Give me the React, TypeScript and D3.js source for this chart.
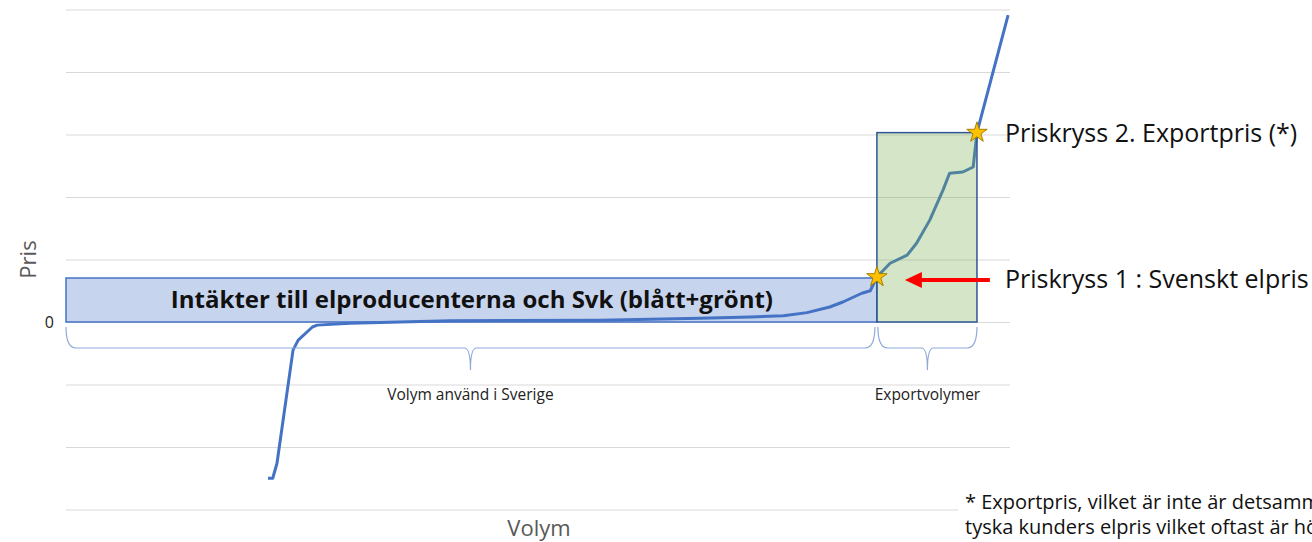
import { useEffect, useRef } from 'react';
import * as d3 from 'd3';

// supply curve (volume 0-100, price in grid units)
const volume = [21.4, 21.9, 22.35, 24.05, 24.6, 26.1, 26.6, 30.1, 40.7, 56.6, 67.2, 72.5, 76.0, 78.5, 80.9, 82.3, 84.3, 85.2, 85.7, 85.9, 87.3, 89.1, 90.1, 91.5, 92.9, 93.6, 95.0, 96.1, 96.5, 99.8];
const price = [-2.5, -2.5, -2.26, -0.45, -0.29, -0.08, -0.05, -0.02, 0.02, 0.03, 0.06, 0.08, 0.1, 0.15, 0.24, 0.32, 0.46, 0.5, 0.66, 0.72, 0.94, 1.07, 1.26, 1.63, 2.11, 2.38, 2.4, 2.48, 3.03, 4.91];

const priceTicks = [-3, -2, -1, 0, 1, 2, 3, 4, 5];

const domesticVolume = [0, 85.9];
const exportVolume = [85.9, 96.5];
const cross1 = { volume: 85.9, price: 0.72 };
const cross2 = { volume: 96.5, price: 3.03 };

const labels = {
	yAxis: 'Pris',
	xAxis: 'Volym',
	revenue: 'Intäkter till elproducenterna och Svk (blått+grönt)',
	domestic: 'Volym använd i Sverige',
	export: 'Exportvolymer',
	cross1: 'Priskryss 1 : Svenskt elpris',
	cross2: 'Priskryss 2. Exportpris (*)',
	note1: '* Exportpris, vilket är inte är detsamma som',
	note2: 'tyska kunders elpris vilket oftast är högre',
};

export default function App() {
	const svgRef = useRef<SVGSVGElement>(null);
	const width = 1312;
	const height = 542;
	const font = '"Open Sans", sans-serif';

	useEffect(() => {
		if (!svgRef.current) return;
		const svg = d3.select(svgRef.current);
		svg.selectAll('*').remove();

		const x = d3.scaleLinear().domain([0, 100]).range([66, 1010]);
		const y = d3.scaleLinear().domain([-3, 5]).range([509.5, 9.5]);

		// grid
		const grid = svg
			.append('g')
			.attr('transform', `translate(${x(0)},0)`)
			.call(
				d3
					.axisLeft(y)
					.tickValues(priceTicks)
					.tickSize(-(x(100) - x(0)))
					.tickPadding(12)
					.tickFormat((d) => (d === 0 ? '0' : '')),
			);
		grid.select('.domain').remove();
		grid.selectAll('line').attr('stroke', '#d9d9d9').attr('stroke-width', 1);
		grid
			.selectAll('text')
			.attr('font-family', font)
			.attr('font-size', 16)
			.attr('fill', '#222');

		// domestic revenue box
		svg
			.append('rect')
			.attr('x', x(domesticVolume[0]))
			.attr('y', y(cross1.price) + 1)
			.attr('width', x(domesticVolume[1]) - x(domesticVolume[0]))
			.attr('height', y(0) - y(cross1.price) - 1)
			.attr('fill', '#c7d4ee')
			.attr('stroke', '#4472c4')
			.attr('stroke-width', 1.5);

		const line = d3
			.line<number>()
			.x((_, i) => x(volume[i]))
			.y((d) => y(d))
			.curve(d3.curveLinear);

		svg
			.append('path')
			.datum(price)
			.attr('fill', 'none')
			.attr('stroke', '#4472c4')
			.attr('stroke-width', 3)
			.attr('stroke-linejoin', 'round')
			.attr('d', line);

		// export box, translucent over the curve
		svg
			.append('rect')
			.attr('x', x(exportVolume[0]))
			.attr('y', y(cross2.price))
			.attr('width', x(exportVolume[1]) - x(exportVolume[0]))
			.attr('height', y(0) - y(cross2.price))
			.attr('fill', '#70ad47')
			.attr('fill-opacity', 0.3)
			.attr('stroke', '#2f5597')
			.attr('stroke-width', 1.5);

		svg
			.append('text')
			.attr('x', x(43))
			.attr('y', y(0.35) + 8)
			.attr('text-anchor', 'middle')
			.attr('font-family', font)
			.attr('font-weight', 700)
			.attr('font-size', 24)
			.attr('fill', '#111')
			.text(labels.revenue);

		// braces
		const brace = (x0: number, x1: number) => {
			const top = y(0) + 5;
			const h = y(0) + 26;
			const tip = y(0) + 48;
			const m = (x0 + x1) / 2;
			return `M${x0},${top} Q${x0},${h} ${x0 + 10},${h} L${m - 6},${h} Q${m},${h} ${m},${tip} Q${m},${h} ${m + 6},${h} L${x1 - 10},${h} Q${x1},${h} ${x1},${top}`;
		};
		[
			[x(domesticVolume[0]), x(domesticVolume[1]) - 2, labels.domestic],
			[x(exportVolume[0]) + 1, x(exportVolume[1]), labels.export],
		].forEach(([x0, x1, label]) => {
			svg
				.append('path')
				.attr('d', brace(x0 as number, x1 as number))
				.attr('fill', 'none')
				.attr('stroke', '#8eaadb')
				.attr('stroke-width', 1.2);
			svg
				.append('text')
				.attr('x', ((x0 as number) + (x1 as number)) / 2)
				.attr('y', y(0) + 78)
				.attr('text-anchor', 'middle')
				.attr('font-family', font)
				.attr('font-size', 15.5)
				.attr('fill', '#222')
				.text(label as string);
		});

		// stars
		const star = d3.symbol().type(d3.symbolStar).size(130);
		[cross1, cross2].forEach((c) => {
			svg
				.append('path')
				.attr('d', star)
				.attr('transform', `translate(${x(c.volume)},${y(c.price)})`)
				.attr('fill', '#ffc000')
				.attr('stroke', '#a68000')
				.attr('stroke-width', 1);
		});

		// red arrow
		const ay = y(cross1.price) + 3;
		const ax = x(cross1.volume) + 28;
		svg
			.append('line')
			.attr('x1', ax + 14)
			.attr('x2', ax + 85)
			.attr('y1', ay)
			.attr('y2', ay)
			.attr('stroke', '#ff0000')
			.attr('stroke-width', 4);
		svg
			.append('path')
			.attr('d', `M${ax},${ay} L${ax + 17},${ay - 8} L${ax + 17},${ay + 8} Z`)
			.attr('fill', '#ff0000');

		svg
			.append('text')
			.attr('x', 1005)
			.attr('y', ay + 8)
			.attr('font-family', font)
			.attr('font-size', 25)
			.attr('fill', '#111')
			.text(labels.cross1);
		svg
			.append('text')
			.attr('x', 1005)
			.attr('y', y(cross2.price) + 9)
			.attr('font-family', font)
			.attr('font-size', 25)
			.attr('fill', '#111')
			.text(labels.cross2);

		// axis titles
		svg
			.append('text')
			.attr('transform', `translate(36,${y(1)}) rotate(-90)`)
			.attr('text-anchor', 'middle')
			.attr('font-family', font)
			.attr('font-size', 22)
			.attr('fill', '#595959')
			.text(labels.yAxis);
		svg
			.append('text')
			.attr('x', 539)
			.attr('y', 536)
			.attr('text-anchor', 'middle')
			.attr('font-family', font)
			.attr('font-size', 22)
			.attr('fill', '#595959')
			.text(labels.xAxis);

		// footnote box
		svg
			.append('rect')
			.attr('x', 958)
			.attr('y', 488)
			.attr('width', width - 958)
			.attr('height', height - 488)
			.attr('fill', '#fff');
		[labels.note1, labels.note2].forEach((t, i) => {
			svg
				.append('text')
				.attr('x', 965)
				.attr('y', 509 + i * 25)
				.attr('font-family', font)
				.attr('font-size', 20)
				.attr('fill', '#111')
				.text(t);
		});
	}, []);

	return (
		<div style={{ position: 'absolute', left: 0, top: 0, background: '#fff' }}>
			<svg ref={svgRef} width={width} height={height} style={{ display: 'block' }} />
		</div>
	);
}
